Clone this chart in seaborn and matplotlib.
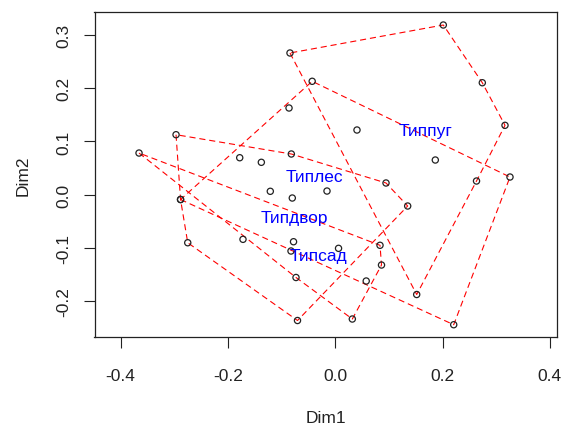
import matplotlib
matplotlib.use("Agg")
import matplotlib.pyplot as plt
import seaborn as sns
import pandas as pd

# ---- data (Dim1, Dim2 coordinates per group) ----
groups = ["Типпуг", "Типлес", "Типдвор", "Типсад"]

pug_x = [-0.0843, 0.2015, 0.2742, 0.3165, 0.2634, 0.1519, 0.0406, 0.1866]
pug_y = [0.2659, 0.3184, 0.2101, 0.1302, 0.0257, -0.1872, 0.1214, 0.0651]

les_x = [-0.0429, 0.3258, 0.2209, -0.2883, -0.0861, -0.1780, -0.1377, -0.1210, -0.0153]
les_y = [0.2128, 0.0332, -0.2439, -0.0090, 0.1627, 0.0694, 0.0608, 0.0064, 0.0069]

dvor_x = [-0.2967, -0.0818, 0.0947, 0.1351, -0.0703, -0.2749, -0.2883, -0.0800, -0.1719, -0.0777]
dvor_y = [0.1126, 0.0764, 0.0220, -0.0212, -0.2360, -0.0901, -0.0090, -0.0062, -0.0837, -0.0882]

sad_x = [-0.3657, 0.0835, 0.0863, 0.0319, -0.0731, -0.0824, 0.0062, 0.0578]
sad_y = [0.0782, -0.0949, -0.1319, -0.2332, -0.1553, -0.1056, -0.1006, -0.1619]

label_x = [0.168, -0.0386, -0.0768, -0.032]
label_y = [0.1208, 0.0341, -0.0424, -0.1144]

x_ticks = [-0.4, -0.2, 0.0, 0.2, 0.4]
y_ticks = [-0.2, -0.1, 0.0, 0.1, 0.2, 0.3]

# ---- build table ----
group_xs = [pug_x, les_x, dvor_x, sad_x]
group_ys = [pug_y, les_y, dvor_y, sad_y]
rows = []
for g, xs, ys in zip(groups, group_xs, group_ys):
    for xv, yv in zip(xs, ys):
        rows.append({"Dim1": xv, "Dim2": yv, "group": g})
df = pd.DataFrame(rows)


def convex_hull(points):
    pts = sorted(set(points))
    if len(pts) <= 2:
        return pts

    def cross(o, a, b):
        return (a[0] - o[0]) * (b[1] - o[1]) - (a[1] - o[1]) * (b[0] - o[0])

    lower = []
    for p in pts:
        while len(lower) >= 2 and cross(lower[-2], lower[-1], p) <= 0:
            lower.pop()
        lower.append(p)
    upper = []
    for p in reversed(pts):
        while len(upper) >= 2 and cross(upper[-2], upper[-1], p) <= 0:
            upper.pop()
        upper.append(p)
    return lower[:-1] + upper[:-1]


sns.set_style("ticks")
plt.rcParams["font.family"] = ["Liberation Sans", "DejaVu Sans"]
plt.rcParams["axes.unicode_minus"] = False

fig = plt.figure(figsize=(5.62, 4.27), dpi=100)
ax = fig.add_axes([94.5 / 562, 1 - 337.5 / 427, (556.5 - 94.5) / 562, (337.5 - 13) / 427])

# hulls
for g in groups:
    sub = df[df["group"] == g]
    hull = convex_hull(list(zip(sub["Dim1"], sub["Dim2"])))
    hull = hull + [hull[0]]
    ax.plot([p[0] for p in hull], [p[1] for p in hull], color="#FF0000",
            linewidth=0.8, dashes=(5.5, 3.5), zorder=2)

# points
sns.scatterplot(data=df, x="Dim1", y="Dim2", ax=ax, marker="o", s=20,
                facecolors="none", edgecolor="#222222", linewidth=0.9,
                legend=False, zorder=3)

# group labels
for name, lx, ly in zip(groups, label_x, label_y):
    ax.text(lx, ly, name, color="#0000FF", fontsize=12.5, ha="center",
            va="center", zorder=4)

ax.set_xlim(-0.4487, 0.4125)
ax.set_ylim(-0.2660, 0.3428)
ax.set_xticks(x_ticks)
ax.set_yticks(y_ticks)
ax.set_xticklabels([f"{t:.1f}" for t in x_ticks])
ax.set_yticklabels([f"{t:.1f}" for t in y_ticks], rotation=90, va="center")
ax.tick_params(axis="both", direction="out", length=8, width=0.8,
               labelsize=12.5, colors="#222222")
ax.tick_params(axis="x", pad=15)
ax.tick_params(axis="y", pad=9)
for sp in ax.spines.values():
    sp.set_visible(True)
    sp.set_color("#222222")
    sp.set_linewidth(0.9)
ax.set_xlabel("Dim1", fontsize=12.5, labelpad=19, color="#222222")
ax.set_ylabel("Dim2", fontsize=12.5, labelpad=18, color="#222222")

fig.savefig("out.png", dpi=100)
